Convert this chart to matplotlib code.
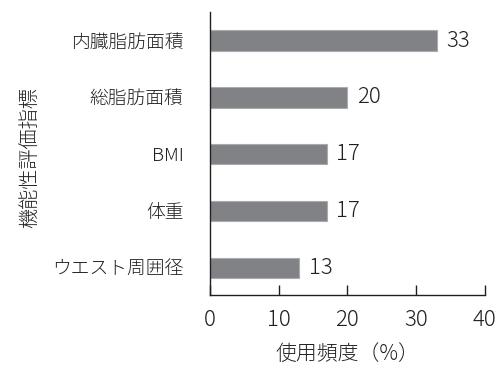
import matplotlib.pyplot as plt

plt.rcParams['font.family'] = ['Noto Sans CJK JP', 'DejaVu Sans']
plt.rcParams['font.weight'] = 300
plt.rcParams['axes.labelweight'] = 300

indicators = ["内臓脂肪面積", "総脂肪面積", "BMI", "体重", "ウエスト周囲径"]
frequency = [33, 20, 17, 17, 13]
xticks = [0, 10, 20, 30, 40]

ink = "#231f20"

fig = plt.figure(figsize=(5.02, 3.67), dpi=100)
ax = fig.add_axes([0.418, 0.196, 0.548, 0.771])

pos = range(len(indicators))
ax.barh(pos, frequency, height=0.36, color="#808285", edgecolor="#a9abad", linewidth=0.8)

for y, v in zip(pos, frequency):
    ax.text(v + 1.4, y, str(v), va="center", ha="left", fontsize=16, color=ink)

ax.set_yticks(list(pos))
ax.set_yticklabels(indicators, fontsize=13.5, color=ink)
ax.set_ylim(4.48, -0.5)
ax.set_xlim(0, 40)
ax.set_xticks(xticks)
ax.set_xticklabels([str(t) for t in xticks], fontsize=16, color=ink)

ax.tick_params(axis="y", length=0, pad=19)
ax.tick_params(axis="x", direction="in", length=7, width=1, color=ink, pad=10)

for s in ["top", "right"]:
    ax.spines[s].set_visible(False)
for s in ["left", "bottom"]:
    ax.spines[s].set_color(ink)
    ax.spines[s].set_linewidth(1)

ax.set_xlabel("使用頻度（%）", fontsize=15, fontweight=300, color=ink, labelpad=9)
fig.text(0.06, 0.57, "機能性評価指標", rotation=90, va="center", ha="center",
         fontsize=14.5, fontweight=300, color=ink)

fig.savefig("out.png", dpi=100)
